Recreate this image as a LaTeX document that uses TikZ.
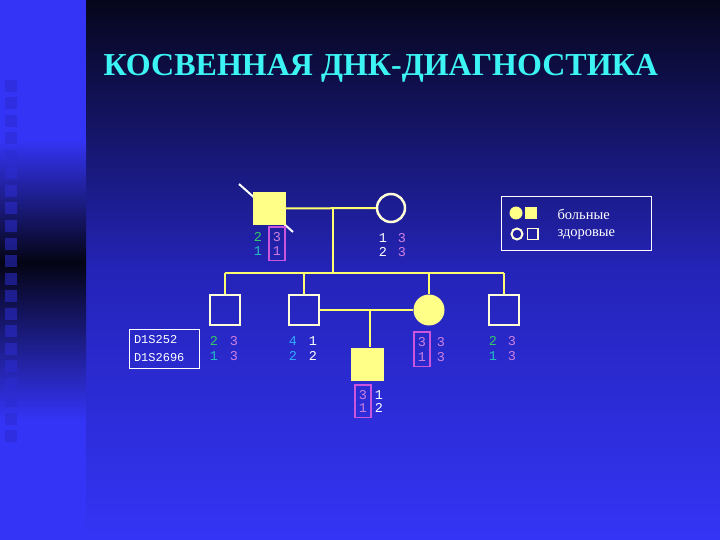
\documentclass[tikz,border=0pt]{standalone}
\usepackage{fontspec}
\setmainfont{Liberation Serif}
\setmonofont{Liberation Mono}
\usetikzlibrary{positioning}
\usetikzlibrary{fit}
\usetikzlibrary{calc}

\definecolor{slidetop}{HTML}{06061C}
\definecolor{slidemid}{HTML}{2424B8}
\definecolor{slidebot}{HTML}{3434F6}
\definecolor{stripdark}{HTML}{040414}
\definecolor{titlecyan}{HTML}{3CF4F4}
\definecolor{affyellow}{HTML}{FFFF88}
\definecolor{lineyellow}{HTML}{FFFF70}
\definecolor{linewhite}{HTML}{FFFFD8}
\definecolor{algreen}{HTML}{33CC66}
\definecolor{alcyan}{HTML}{22C0C0}
\definecolor{alblue}{HTML}{33AAFF}
\definecolor{alpink}{HTML}{CC80E0}
\definecolor{boxmag}{HTML}{CC55DD}

\begin{document}
\begin{tikzpicture}[
	x=1pt, y=-1pt,
	male/.style={rectangle, draw=linewhite, line width=2.5pt, minimum size=30pt, inner sep=0pt},
	female/.style={circle, draw=linewhite, line width=2.5pt, minimum size=28pt, inner sep=0pt},
	affmale/.style={rectangle, fill=affyellow, minimum size=33pt, inner sep=0pt},
	afffemale/.style={circle, fill=affyellow, minimum size=31pt, inner sep=0pt},
	link/.style={draw=lineyellow, line width=2pt},
	allele/.style={inner sep=0pt, font=\ttfamily\fontsize{13.5}{14}\selectfont},
	hlbox/.style={draw=boxmag, line width=1.6pt, inner xsep=3.5pt, inner ysep=5pt},
	legendtext/.style={anchor=west, text=white, font=\fontsize{14.5}{16}\selectfont},
	]

	\useasboundingbox (0,0) rectangle (720,540);

	% background of the slide
	\shade[top color=slidetop, bottom color=slidemid] (86,0) rectangle (720,270);
	\shade[top color=slidemid, bottom color=slidebot] (86,270) rectangle (720,540);
	\fill[slidebot] (0,0) rectangle (86,540);
	\shade[top color=slidebot, bottom color=stripdark] (0,140) rectangle (86,262);
	\shade[top color=stripdark, bottom color=slidebot] (0,262) rectangle (86,420);
	\foreach \k in {0,...,20}
		\fill[slidebot!85!black, opacity=0.55] (5,{80+17.5*\k}) rectangle ++(12,12);

	\node[anchor=base west, text=titlecyan, font=\bfseries\fontsize{32}{36}\selectfont] (title) at (100,76) {КОСВЕННАЯ ДНК-ДИАГНОСТИКА};

	% parents
	\draw[white, line width=2pt] (239,184) -- (293,232);
	\node[affmale] (father) at (269,208.5) {};
	\node[female] (mother) at (391,208) {};
	\coordinate (mate) at (333,208);
	\coordinate (sibs) at (333,273);
	\draw[link] (father.east) -- (mother.west);
	\draw[link] (mate) -- (sibs);

	% children
	\node[male] (c1) at (225,310) {};
	\node[male] (c2) at (304,310) {};
	\node[afffemale] (c3) at (429,310) {};
	\node[male] (c4) at (504,310) {};
	\draw[link] (c1.north|-sibs) -- (c4.north|-sibs);
	\draw[link] (c1.north|-sibs) -- (c1.north);
	\draw[link] (c2.north|-sibs) -- (c2.north);
	\draw[link] (c3.north|-sibs) -- (c3.north);
	\draw[link] (c4.north|-sibs) -- (c4.north);

	% grandchild
	\draw[link] (c2.east) -- (c3.west);
	\coordinate (mate2) at (370,310);
	\node[affmale] (g1) at (367,364) {};
	\draw[link] (mate2) -- (mate2|-g1.north);

	% alleles
	\node[allele, text=algreen] (fa1) at (258,237) {2};
	\node[allele, text=alcyan] (fb1) at (258,251) {1};
	\node[allele, text=alpink] (fa2) at (277,237) {3};
	\node[allele, text=alpink] (fb2) at (277,251) {1};
	\node[hlbox, fit=(fa2)(fb2)] {};

	\node[allele, text=white] (ma1) at (383,238) {1};
	\node[allele, text=white] (mb1) at (383,252) {2};
	\node[allele, text=alpink] (ma2) at (402,238) {3};
	\node[allele, text=alpink] (mb2) at (402,252) {3};

	\node[allele, text=algreen] (c1a1) at (214,341) {2};
	\node[allele, text=alcyan] (c1b1) at (214,356) {1};
	\node[allele, text=alpink] (c1a2) at (234,341) {3};
	\node[allele, text=alpink] (c1b2) at (234,356) {3};

	\node[allele, text=alblue] (c2a1) at (293,341) {4};
	\node[allele, text=alblue] (c2b1) at (293,356) {2};
	\node[allele, text=white] (c2a2) at (313,341) {1};
	\node[allele, text=white] (c2b2) at (313,356) {2};

	\node[allele, text=alpink] (c3a1) at (422,342) {3};
	\node[allele, text=alpink] (c3b1) at (422,357) {1};
	\node[allele, text=alpink] (c3a2) at (441,342) {3};
	\node[allele, text=alpink] (c3b2) at (441,357) {3};
	\node[hlbox, fit=(c3a1)(c3b1)] {};

	\node[allele, text=algreen] (c4a1) at (493,341) {2};
	\node[allele, text=alcyan] (c4b1) at (493,356) {1};
	\node[allele, text=alpink] (c4a2) at (512,341) {3};
	\node[allele, text=alpink] (c4b2) at (512,356) {3};

	\node[allele, text=alpink] (ga1) at (363,395) {3};
	\node[allele, text=alpink] (gb1) at (363,408) {1};
	\node[allele, text=white] (ga2) at (379,395) {1};
	\node[allele, text=white] (gb2) at (379,408) {2};
	\node[hlbox, fit=(ga1)(gb1)] {};

	% marker names
	\node[draw=white, line width=1pt, minimum width=70pt, minimum height=39pt, text width=60pt, align=left, inner sep=0pt, text=white, font=\ttfamily\fontsize{12}{18}\selectfont] (markers) at (164,348.5) {D1S252\\D1S2696};

	% legend
	\node[draw=white, line width=1pt, minimum width=150pt, minimum height=53pt] (legend) at (576,223.5) {};
	\node[circle, fill=affyellow, minimum size=13pt, inner sep=0pt] (lf1) at (516,213) {};
	\node[rectangle, fill=affyellow, minimum size=12pt, inner sep=0pt, right=2pt of lf1] (lm1) {};
	\node[circle, draw=linewhite, line width=2pt, minimum size=11pt, inner sep=0pt] (lf2) at (517,234) {};
	\node[rectangle, draw=linewhite, line width=1.5pt, minimum size=10.5pt, inner sep=0pt, right=3pt of lf2] (lm2) {};
	\node[legendtext] (sick) at (554,214) {больные};
	\node[legendtext] (well) at (554,235) {здоровые};

\end{tikzpicture}
\end{document}
